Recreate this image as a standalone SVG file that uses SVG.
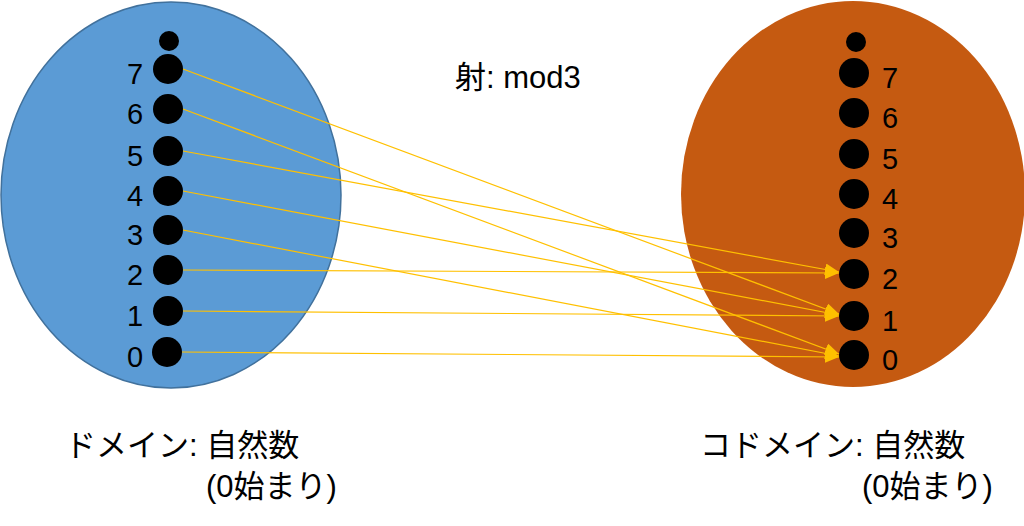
<svg xmlns="http://www.w3.org/2000/svg" width="1024" height="526" viewBox="0 0 1024 526">
<defs>
<style>
.dot{fill:#000}
.num{font-family:"Liberation Sans","Noto Sans CJK JP",sans-serif;font-size:29px;fill:#000;text-anchor:middle}
.lbl{font-family:"Liberation Sans","Noto Sans CJK JP",sans-serif;font-size:31px;fill:#000}
.arr{stroke:#FFC000;stroke-width:1.2;fill:none;marker-end:url(#ah)}
</style>
<marker id="ah" markerUnits="userSpaceOnUse" markerWidth="14" markerHeight="12" refX="14" refY="6" orient="auto">
<path d="M0,0 L14,6 L0,12 Z" fill="#FFC000"/>
</marker>
</defs>
<rect width="1024" height="526" fill="#fff"/>
<g id="domain">
<ellipse cx="171" cy="195" rx="170" ry="193" fill="#5B9BD5" stroke="#41719C" stroke-width="1.5"/>
<circle class="dot" cx="169" cy="41" r="10"/>
<circle class="dot" cx="168" cy="69" r="15"/>
<circle class="dot" cx="168" cy="109" r="15"/>
<circle class="dot" cx="168" cy="151" r="15"/>
<circle class="dot" cx="168" cy="191" r="15"/>
<circle class="dot" cx="168" cy="230" r="15"/>
<circle class="dot" cx="168" cy="270" r="15"/>
<circle class="dot" cx="168" cy="311" r="15"/>
<circle class="dot" cx="167" cy="352" r="15"/>
<text class="num" x="135" y="84">7</text>
<text class="num" x="135" y="124">6</text>
<text class="num" x="135" y="166">5</text>
<text class="num" x="135" y="206">4</text>
<text class="num" x="135" y="245">3</text>
<text class="num" x="135" y="285">2</text>
<text class="num" x="135" y="326">1</text>
<text class="num" x="135" y="367">0</text>
</g>
<g id="codomain">
<ellipse cx="853" cy="194" rx="172" ry="193" fill="#C55A11"/>
<circle class="dot" cx="856" cy="42" r="10"/>
<circle class="dot" cx="854" cy="73" r="15"/>
<circle class="dot" cx="854" cy="113" r="15"/>
<circle class="dot" cx="854" cy="154" r="15"/>
<circle class="dot" cx="854" cy="194" r="15"/>
<circle class="dot" cx="854" cy="233" r="15"/>
<circle class="dot" cx="854" cy="274" r="15"/>
<circle class="dot" cx="854" cy="316" r="15"/>
<circle class="dot" cx="854" cy="355" r="15"/>
<text class="num" x="890" y="88">7</text>
<text class="num" x="890" y="128">6</text>
<text class="num" x="890" y="169">5</text>
<text class="num" x="890" y="209">4</text>
<text class="num" x="890" y="248">3</text>
<text class="num" x="890" y="289">2</text>
<text class="num" x="890" y="331">1</text>
<text class="num" x="890" y="370">0</text>
</g>
<g id="connectors">
<line class="arr" x1="183" y1="69" x2="839" y2="314"/>
<line class="arr" x1="183" y1="109" x2="839" y2="354"/>
<line class="arr" x1="183" y1="151" x2="839" y2="272"/>
<line class="arr" x1="183" y1="191" x2="839" y2="315"/>
<line class="arr" x1="183" y1="230" x2="839" y2="356"/>
<line class="arr" x1="183" y1="270" x2="839" y2="273"/>
<line class="arr" x1="183" y1="311" x2="839" y2="316"/>
<line class="arr" x1="182" y1="352" x2="839" y2="357"/>
</g>
<g id="labels">
<text class="lbl" x="455" y="88">射: mod3</text>
<text class="lbl" x="65" y="456">ドメイン: 自然数</text>
<text class="lbl" x="206" y="497">(0始まり)</text>
<text class="lbl" x="700" y="456">コドメイン: 自然数</text>
<text class="lbl" x="862" y="497">(0始まり)</text>
</g>
</svg>
